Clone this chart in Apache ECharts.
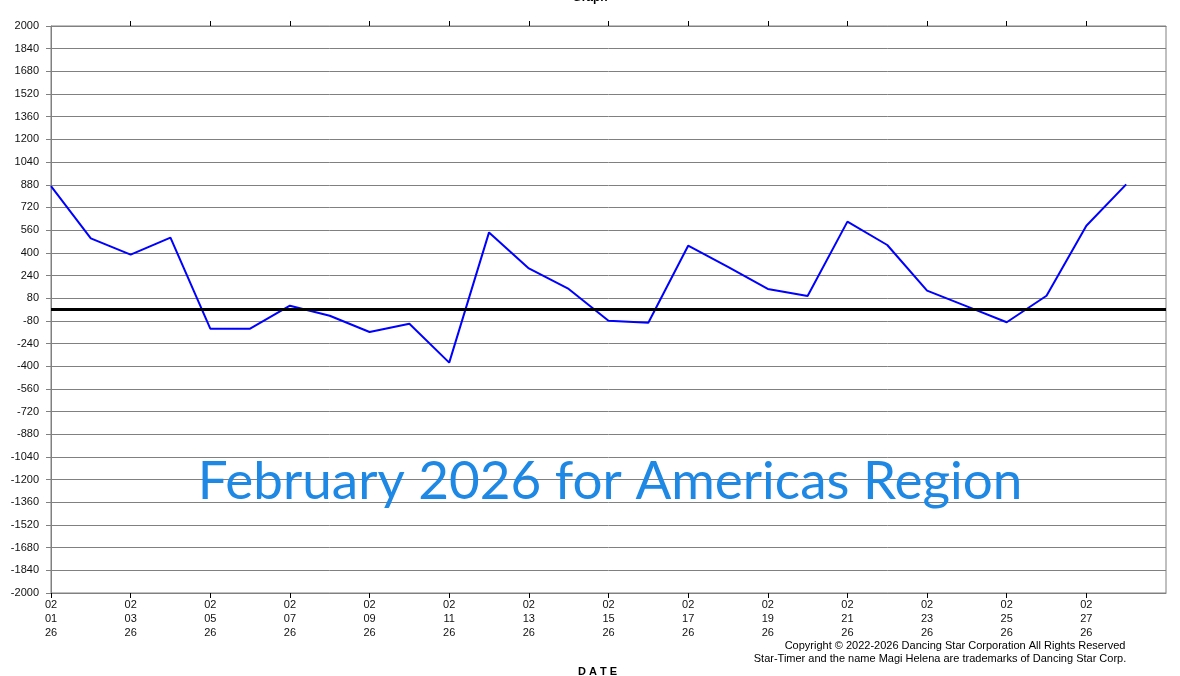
<!DOCTYPE html>
<html>
<head>
<meta charset="utf-8">
<script src="https://cdn.jsdelivr.net/npm/echarts@6/dist/echarts.min.js"></script>
<style>html,body{margin:0;padding:0;background:#fff}#c{width:1180px;height:676px}</style>
</head>
<body>
<div id="c"></div>
<script>
const days = ['01','02','03','04','05','06','07','08','09','10','11','12','13','14','15','16','17','18','19','20','21','22','23','24','25','26','27','28','29'];
const categories = days.map(d => '02\n' + d + '\n26');
const values = [870, 502, 387, 507, -135, -135, 27, -44, -159, -100, -375, 544, 290, 145, -79, -93, 450, 300, 145, 95, 620, 455, 133, 22, -90, 97, 591, 883];
const titleText = 'Graph';
const axisName = 'D A T E';
const overlayText = 'February 2026 for Americas Region';
const copyright1 = 'Copyright \u00a9 2022-2026 Dancing Star Corporation All Rights Reserved';
const copyright2 = 'Star-Timer and the name Magi Helena are trademarks of Dancing Star Corp.';

const chart = echarts.init(document.getElementById('c'), null, {renderer: 'canvas'});
const lbl = (i) => i % 2 === 0 && i < 28;
chart.setOption({
  animation: false,
  backgroundColor: '#ffffff',
  grid: {left: 51, right: 14, top: 26, bottom: 83, show: true, borderColor: '#808080', borderWidth: 1},
  xAxis: [{
    type: 'category', data: categories, boundaryGap: false, position: 'bottom',
    axisLine: {onZero: false, lineStyle: {color: '#808080', width: 1}},
    axisTick: {show: true, interval: (i) => lbl(i), length: 5, lineStyle: {color: '#000'}},
    axisLabel: {interval: (i) => lbl(i), color: '#111', fontFamily: 'Liberation Sans, Arial', fontSize: 11, lineHeight: 14, margin: 5},
    splitLine: {show: false}
  }, {
    type: 'category', data: categories, boundaryGap: false, position: 'top',
    axisLine: {onZero: false, lineStyle: {color: '#808080', width: 1}},
    axisTick: {show: true, interval: (i) => lbl(i) && i > 0, length: 5, lineStyle: {color: '#000'}},
    axisLabel: {show: false},
    splitLine: {show: false}
  }],
  yAxis: {
    type: 'value', min: -2000, max: 2000, interval: 160,
    axisLine: {show: true, lineStyle: {color: '#808080'}},
    axisTick: {show: true, length: 5, lineStyle: {color: '#808080'}},
    axisLabel: {color: '#111', fontFamily: 'Liberation Sans, Arial', fontSize: 11, margin: 12, formatter: (v) => String(v)},
    splitLine: {show: true, lineStyle: {color: '#808080', width: 1}}
  },
  series: [{
    type: 'line', data: values, xAxisIndex: 0, showSymbol: false, symbol: 'none',
    lineStyle: {color: '#0000ff', width: 2}, z: 3,
    markLine: {silent: true, symbol: 'none', label: {show: false},
      lineStyle: {color: '#000', width: 3, type: 'solid'}, data: [{yAxis: 0}]}
  }],
  graphic: [
    {type: 'text', left: 'center', top: -8, style: {text: titleText, font: 'bold 12px Liberation Sans, Arial', fill: '#000'}},
    {type: 'text', x: 578, y: 666, style: {text: axisName, font: 'bold 11px Liberation Sans, Arial', fill: '#000'}},
    {type: 'text', x: 610, y: 482, z: 10, style: {text: overlayText, font: '53px Lato, Noto Sans, sans-serif', fill: '#1e88e5', align: 'center', verticalAlign: 'middle'}},
    {type: 'text', x: 955, y: 646, style: {text: copyright1, font: '11px Liberation Sans, Arial', fill: '#000', align: 'center', verticalAlign: 'middle'}},
    {type: 'text', x: 940, y: 659, style: {text: copyright2, font: '11px Liberation Sans, Arial', fill: '#000', align: 'center', verticalAlign: 'middle'}}
  ]
});
</script>
</body>
</html>
